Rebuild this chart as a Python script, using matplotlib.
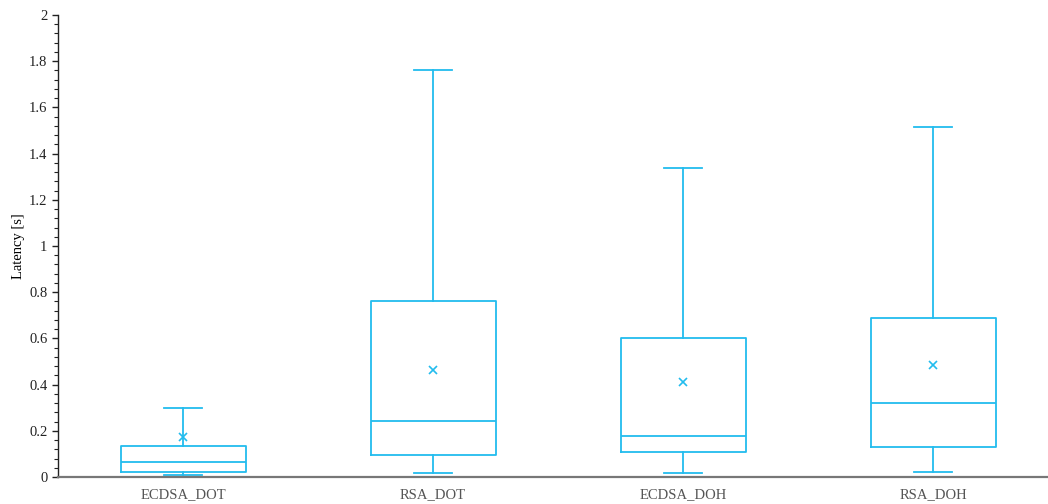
import matplotlib.pyplot as plt
from matplotlib.ticker import MultipleLocator

plt.rcParams['font.family'] = ['Liberation Serif', 'DejaVu Serif']

labels = ["ECDSA_DOT", "RSA_DOT", "ECDSA_DOH", "RSA_DOH"]
whis_lo = [0.01, 0.017, 0.016, 0.023]
q1 = [0.02, 0.095, 0.107, 0.131]
median = [0.064, 0.242, 0.176, 0.320]
q3 = [0.134, 0.762, 0.600, 0.687]
whis_hi = [0.30, 1.762, 1.338, 1.515]
mean = [0.175, 0.463, 0.411, 0.483]

col = "#22bcee"

stats = []
for i in range(len(labels)):
    stats.append(dict(label=labels[i], whislo=whis_lo[i], q1=q1[i], med=median[i],
                      q3=q3[i], whishi=whis_hi[i], mean=mean[i], fliers=[]))

fig = plt.figure(figsize=(10.48, 5.04), dpi=100)
ax = fig.add_axes([58 / 1048, 27 / 504, 990 / 1048, 462 / 504])

line = dict(color=col, linewidth=1.3)
ax.bxp(stats, positions=range(len(labels)), widths=0.5, capwidths=0.15,
       showmeans=True, showfliers=False,
       boxprops=line, whiskerprops=line, capprops=line, medianprops=line,
       meanprops=dict(marker="x", markeredgecolor=col, markersize=6, markeredgewidth=1.2))

ax.set_xlim(-0.5, 3.46)
ax.set_ylim(0, 2)
ax.yaxis.set_major_locator(MultipleLocator(0.2))
ax.yaxis.set_minor_locator(MultipleLocator(0.04))
ax.set_yticklabels(["0" if abs(v) < 1e-9 else f"{v:g}" for v in ax.get_yticks()])
ax.tick_params(axis="y", which="major", length=4, width=1, labelsize=10.5, colors="#222")
ax.tick_params(axis="y", which="minor", length=3, width=0.8, colors="#222")
ax.tick_params(axis="x", length=0, labelsize=10.5, labelcolor="#555", pad=8)

for s in ("top", "right"):
    ax.spines[s].set_visible(False)
ax.spines["left"].set_color("#222")
ax.spines["left"].set_linewidth(1)
ax.spines["bottom"].set_color("#777")
ax.spines["bottom"].set_linewidth(1.6)

ax.set_ylabel("Latency [s]", fontsize=10.5, labelpad=3)

fig.savefig("out.png", dpi=100)
